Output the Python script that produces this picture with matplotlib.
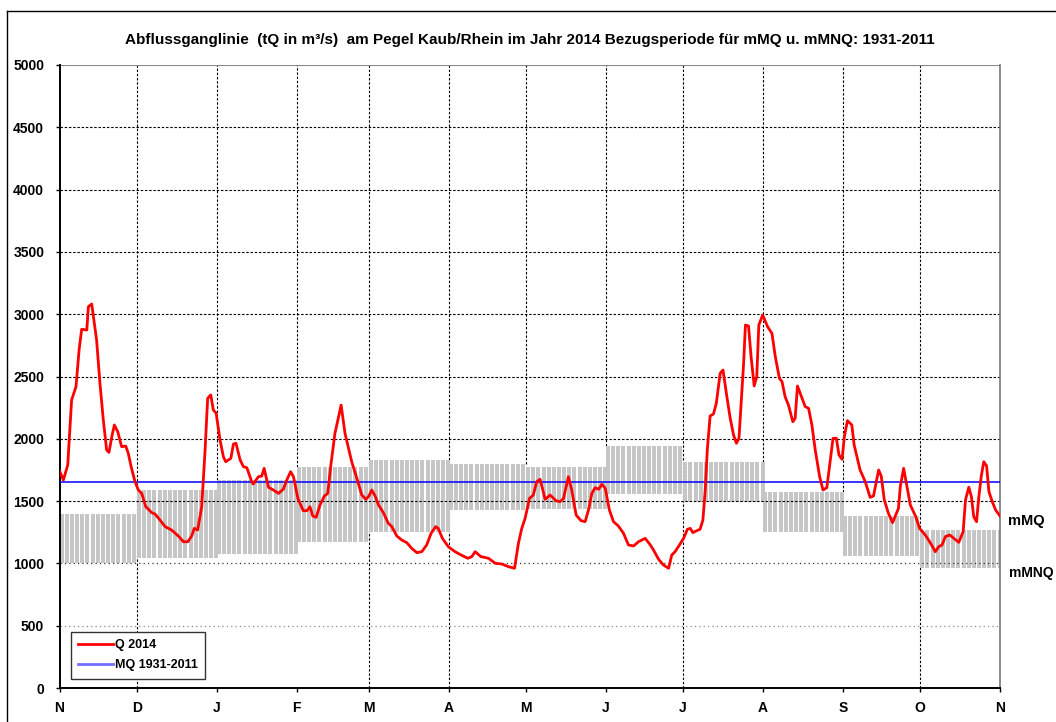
import numpy as np
import matplotlib
matplotlib.use("Agg")
import matplotlib.pyplot as plt
from matplotlib.lines import Line2D
import matplotlib.transforms as mtransforms

plt.rcParams['font.family'] = ['Liberation Sans', 'DejaVu Sans']

# ---------------- data ----------------
month_labels = ['N', 'D', 'J', 'F', 'M', 'A', 'M', 'J', 'J', 'A', 'S', 'O', 'N']
month_days = [30, 31, 31, 28, 31, 30, 31, 30, 31, 31, 30, 31]
mMQ = [1400, 1590, 1670, 1775, 1830, 1800, 1775, 1940, 1815, 1570, 1380, 1270]
mMNQ = [1000, 1040, 1075, 1175, 1250, 1425, 1440, 1560, 1490, 1255, 1060, 960]
MQ = 1650

q_day = [0.2, 1.5, 3.2, 4.7, 6.4, 7.6, 8.6, 10.6, 11.2, 12.5, 14.4, 15.7, 17, 18.3, 19.2, 20.3,
         21.3, 22.6, 24.1, 25.7, 26.7, 27.8, 29.3, 30.6, 31.9, 33.5, 35.8, 37.1, 39, 41, 43.5,
         46.1, 48.1, 49.8, 51.3, 52.3, 53.6, 55.2, 56.5, 57.5, 58.7, 59.7, 60.8, 62.3, 63.6,
         64.5, 66.5, 67.5, 68.5, 70.1, 71.4, 72.7, 74.6, 75.2, 77.2, 78.5, 79.4, 81.1, 83, 85,
         86.9, 88.2, 89.7, 90.8, 92.5, 94.6, 96, 97.2, 98.3, 99.6, 101.1, 102.8, 104.1, 105.4,
         106.9, 109.3, 110.8, 113.4, 115.4, 117.3, 118.9, 120.1, 121.2, 122.5, 123.8, 125.7,
         127.6, 129, 130.9, 132.8, 134.8, 136.7, 138.7, 140.6, 142.5, 144.2, 146, 147, 148.6,
         150.9, 153.5, 155.9, 158.5, 160, 161.3, 163.5, 166.5, 169.1, 171.7, 174.2, 176.6,
         178.1, 179.4, 180.7, 182.4, 183.9, 185.2, 186.5, 188.5, 190.4, 192.7, 194.3, 195.6,
         197.5, 198.8, 200.5, 202.4, 204, 205.3, 206.6, 207.9, 209.2, 210.5, 211.8, 213.4, 215,
         216.9, 218.9, 220.8, 222.8, 224.7, 227.3, 229.3, 230.5, 232.5, 234.4, 236.4, 237.6,
         238.9, 240.6, 242.2, 243.7, 244.8, 245.8, 247.4, 248.6, 249.7, 250.6, 251.4, 252.5,
         253.8, 254.9, 256.4, 257.5, 259, 260.3, 261.6, 262.7, 263.7, 264.8, 265.5, 266.2,
         267.4, 268.4, 269.6, 270.6, 271.4, 272.9, 274.8, 276.5, 277.8, 279.4, 280.4, 281.6,
         282.9, 284.6, 285.5, 286.4, 287.7, 289.4, 290.7, 292, 293.3, 295, 296.3, 297.8, 298.8,
         300.2, 301.5, 302.5, 303.7, 304.6, 305.8, 307.5, 308.4, 310.7, 312.7, 314.6, 315.9,
         317.9, 318.9, 320.1, 321.7, 323.3, 325.6, 326.3, 327.6, 328.9, 330.2, 332.2, 333.8,
         336, 337.7, 339.9, 341.2, 342.5, 343.8, 345.5, 347.1, 349, 350.7, 351.6, 352.9, 353.9,
         354.8, 355.9, 356.8, 357.7, 358.7, 359.8, 360.7, 362, 363.3, 365]
q_val = [1736, 1669, 1790, 2311, 2418, 2713, 2879, 2873, 3060, 3082, 2793, 2445, 2151, 1910, 1891,
         2017, 2111, 2057, 1937, 1942, 1883, 1776, 1656, 1589, 1562, 1455, 1407, 1396, 1348, 1295,
         1268, 1220, 1174, 1174, 1220, 1281, 1268, 1455, 1910, 2325, 2352, 2231, 2205, 1990, 1856,
         1816, 1843, 1958, 1964, 1830, 1776, 1768, 1656, 1637, 1696, 1701, 1763, 1611, 1589, 1562,
         1597, 1669, 1736, 1696, 1522, 1423, 1423, 1455, 1380, 1370, 1469, 1541, 1562, 1803,
         2044, 2271, 2044, 1816, 1683, 1549, 1514, 1541, 1589, 1541, 1469, 1407,
         1322, 1295, 1220, 1188, 1166, 1121, 1086, 1094, 1148, 1241, 1295, 1281, 1201,
         1134, 1094, 1067, 1041, 1054, 1094, 1055, 1041, 1001, 995, 974, 961,
         1161, 1281, 1362, 1522, 1549, 1656, 1675, 1514, 1549, 1503, 1495, 1522,
         1696, 1589, 1388, 1343, 1335, 1429, 1562, 1608, 1595, 1635, 1603, 1429, 1335,
         1300, 1241, 1148, 1140, 1174, 1201, 1148, 1108, 1033, 987, 961, 1067,
         1094, 1148, 1201, 1274, 1281, 1247, 1263, 1274, 1348, 1589, 1910, 2183,
         2199, 2285, 2526, 2552, 2338, 2164, 2030, 1964, 2004, 2365, 2606, 2913,
         2905, 2659, 2424, 2498, 2913, 2994, 2900, 2846, 2659, 2485, 2459, 2338,
         2271, 2137, 2164, 2424, 2351, 2258, 2245, 2111, 1910, 1696, 1589, 1608, 1776,
         2004, 2004, 1870, 1835, 2017, 2146, 2111, 1950, 1750, 1656, 1530, 1541,
         1750, 1701, 1509, 1402, 1327, 1442, 1616, 1763, 1616, 1469, 1380, 1281,
         1228, 1174, 1094, 1134, 1148, 1215, 1228, 1201, 1169, 1255, 1509, 1611, 1536,
         1375, 1335, 1536, 1696, 1816, 1782, 1576, 1495, 1429, 1380]

title = "Abflussganglinie  (tQ in m\u00b3/s)  am Pegel Kaub/Rhein im Jahr 2014 Bezugsperiode f\u00fcr mMQ u. mMNQ: 1931-2011"

# ---------------- figure ----------------
fig = plt.figure(figsize=(10.56, 7.22), dpi=100)
ax = fig.add_axes([59.5 / 1056, 34 / 722, 940.5 / 1056, 623 / 722])

bounds = np.concatenate([[0], np.cumsum(month_days)])
total = bounds[-1]

# gray bands (hatched as vertical bars)
for i in range(12):
    xs = np.arange(bounds[i], bounds[i + 1] - 0.5, 2.0) + 0.85
    ax.bar(xs, mMQ[i] - mMNQ[i], bottom=mMNQ[i], width=1.55, color='#c6c6c6',
           edgecolor='none', zorder=1)

# vertical grid lines
dash = (0, (2.2, 1.6))
full_lines = {1, 4, 5, 8, 11}
for i in range(1, 12):
    x = bounds[i]
    if i in full_lines:
        ymin = 0
    else:
        ymin = max(mMQ[i - 1], mMQ[i])
    ax.plot([x, x], [ymin, 5000], color='black', lw=0.8, linestyle=dash, zorder=0.5)

# horizontal grid lines
for yv in range(1500, 5000, 500):
    ax.axhline(yv, color='black', lw=0.8, linestyle=dash, zorder=1.5)
ax.axhline(1000, color='#333333', lw=0.9, linestyle=(0, (1, 2.5)), zorder=1.5)
ax.axhline(500, color='#888888', lw=0.9, linestyle=(0, (1, 2.5)), zorder=1.5)
ax.axhline(5000, color='#888888', lw=0.8, zorder=1.5)

# MQ line and Q series
mq_line, = ax.plot([0, total], [MQ, MQ], color='#0000ff', lw=1.1, zorder=3, label='MQ 1931-2011')
q_line, = ax.plot(q_day, q_val, color='#ff0000', lw=2.0, zorder=4, label='Q 2014')

ax.set_xlim(0, total)
ax.set_ylim(0, 5000)
ax.set_yticks(np.arange(0, 5001, 500))
ax.set_xticks(bounds)
ax.set_xticklabels(month_labels)

for lab in ax.get_xticklabels() + ax.get_yticklabels():
    lab.set_fontweight('bold')
    lab.set_fontsize(10)
ax.tick_params(axis='y', direction='out', length=3, width=1, pad=8)
ax.tick_params(axis='x', direction='out', length=3, width=1, pad=6)

for s in ['left', 'bottom']:
    ax.spines[s].set_linewidth(1.4)
    ax.spines[s].set_color('black')
ax.spines['top'].set_visible(False)
ax.spines['right'].set_color('#777777')
ax.spines['right'].set_linewidth(1.2)

# legend
leg_mq = Line2D([0], [0], color='#7070ff', lw=2.0)
leg = ax.legend([q_line, leg_mq], ['Q 2014', 'MQ 1931-2011'], loc='lower left',
                bbox_to_anchor=(0.012, 0.0145), borderaxespad=0, fancybox=False,
                framealpha=1, edgecolor='#333333', prop={'weight': 'bold', 'size': 9},
                handlelength=2.8, handletextpad=0.1, labelspacing=0.65, borderpad=0.6)
leg.get_frame().set_linewidth(1.0)

# right labels
trans = mtransforms.blended_transform_factory(ax.transAxes, ax.transData)
ax.text(1.008, mMQ[-1] + 70, 'mMQ', transform=trans, ha='left', va='center',
        fontsize=10.5, fontweight='bold', clip_on=False)
ax.text(1.010, mMNQ[-1] - 35, 'mMNQ', transform=trans, ha='left', va='center',
        fontsize=10, fontweight='bold', clip_on=False)

# title
fig.text(0.502, 1 - 40 / 722, title, ha='center', va='center', fontsize=11, fontweight='bold')

# outer border (top and left)
fig.add_artist(Line2D([7 / 1056, 1.0], [1 - 11 / 722, 1 - 11 / 722], color='black', lw=1.0,
                      transform=fig.transFigure))
fig.add_artist(Line2D([7 / 1056, 7 / 1056], [0, 1 - 11 / 722], color='black', lw=1.0,
                      transform=fig.transFigure))

fig.savefig('out.png', dpi=100)
